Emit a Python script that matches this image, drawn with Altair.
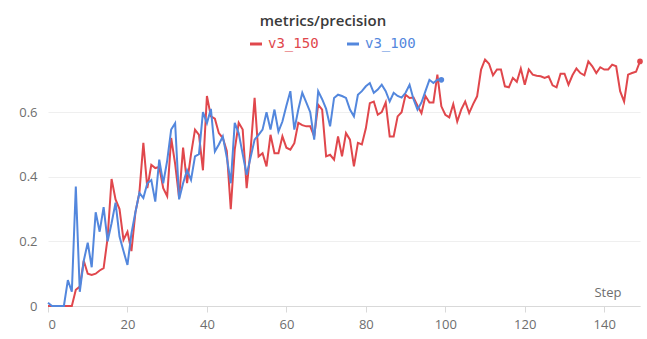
import altair as alt
import pandas as pd

# Precision per training step for two runs
red_name = "v3_150"
blue_name = "v3_100"

v3_150 = [
    0, 0, 0, 0, 0, 0, 0, 0.05, 0.06, 0.14,
    0.10, 0.096, 0.10, 0.11, 0.117, 0.21, 0.393, 0.33, 0.30, 0.205,
    0.23, 0.17, 0.29, 0.35, 0.505, 0.365, 0.437, 0.427, 0.43, 0.365,
    0.34, 0.52, 0.44, 0.334, 0.49, 0.38, 0.47, 0.546, 0.53, 0.42,
    0.65, 0.587, 0.58, 0.535, 0.52, 0.48, 0.30, 0.484, 0.567, 0.546,
    0.365, 0.484, 0.644, 0.463, 0.473, 0.432, 0.53, 0.473, 0.473, 0.525,
    0.49, 0.484, 0.504, 0.567, 0.56, 0.556, 0.556, 0.525, 0.623, 0.608,
    0.463, 0.468, 0.453, 0.525, 0.463, 0.535, 0.515, 0.432, 0.505, 0.50,
    0.55, 0.628, 0.633, 0.592, 0.60, 0.63, 0.525, 0.525, 0.587, 0.60,
    0.654, 0.644, 0.645, 0.62, 0.597, 0.65, 0.63, 0.63, 0.716, 0.618,
    0.592, 0.584, 0.625, 0.571, 0.608, 0.633, 0.597, 0.625, 0.649, 0.732,
    0.763, 0.75, 0.714, 0.732, 0.732, 0.68, 0.677, 0.706, 0.694, 0.735,
    0.685, 0.732, 0.716, 0.713, 0.711, 0.706, 0.711, 0.683, 0.677, 0.719,
    0.719, 0.685, 0.714, 0.735, 0.721, 0.714, 0.757, 0.742, 0.721, 0.739,
    0.732, 0.732, 0.747, 0.742, 0.665, 0.633, 0.716, 0.721, 0.725, 0.757,
]

v3_100 = [
    0.01, 0, 0, 0, 0, 0.08, 0.044, 0.37, 0.044, 0.14,
    0.196, 0.12, 0.29, 0.23, 0.306, 0.20, 0.256, 0.32, 0.215, 0.17,
    0.127, 0.225, 0.29, 0.35, 0.334, 0.38, 0.39, 0.323, 0.453, 0.38,
    0.45, 0.546, 0.566, 0.33, 0.38, 0.42, 0.39, 0.463, 0.47, 0.60,
    0.566, 0.61, 0.478, 0.50, 0.525, 0.46, 0.38, 0.567, 0.535, 0.47,
    0.406, 0.46, 0.515, 0.53, 0.546, 0.60, 0.546, 0.608, 0.54, 0.571,
    0.62, 0.665, 0.546, 0.608, 0.66, 0.63, 0.60, 0.515, 0.665, 0.64,
    0.61, 0.556, 0.644, 0.654, 0.65, 0.644, 0.608, 0.587, 0.654, 0.665,
    0.68, 0.69, 0.66, 0.67, 0.685, 0.665, 0.633, 0.66, 0.65, 0.645,
    0.66, 0.685, 0.64, 0.608, 0.63, 0.665, 0.70, 0.69, 0.70, 0.70,
]

x_ticks = [0, 20, 40, 60, 80, 100, 120, 140]
y_ticks = [0, 0.2, 0.4, 0.6]

red = "#e0474c"
blue = "#5387dd"
font = "Open Sans"
mono = "DejaVu Sans Mono"

rows = [{"Step": i, "value": v, "run": red_name} for i, v in enumerate(v3_150)]
rows += [{"Step": i, "value": v, "run": blue_name} for i, v in enumerate(v3_100)]
df = pd.DataFrame(rows)
last = df.groupby("run", as_index=False).last()

color_scale = alt.Scale(domain=[red_name, blue_name], range=[red, blue])

x_enc = alt.X(
    "Step:Q",
    scale=alt.Scale(domain=[0, 149], nice=False),
    axis=alt.Axis(
        values=x_ticks,
        grid=False,
        domainColor="#d9d9d9",
        tickColor="#d9d9d9",
        tickSize=6,
        labelPadding=6,
        labelFontSize=13,
        labelColor="#6e6e6e",
        labelFont=font,
        title="Step",
        titleX=573,
        titleY=-7,
        titleAlign="right",
        titleBaseline="bottom",
        titleFontWeight="normal",
        titleFontSize=13,
        titleColor="#6e6e6e",
        titleFont=font,
    ),
)

y_enc = alt.Y(
    "value:Q",
    scale=alt.Scale(domain=[0, 0.78], nice=False),
    axis=alt.Axis(
        values=y_ticks,
        format=".1~f",
        grid=True,
        gridColor="#efefef",
        domain=False,
        ticks=False,
        labelPadding=11,
        labelFontSize=13,
        labelColor="#6e6e6e",
        labelFont=font,
        title=None,
    ),
)

lines = alt.Chart(df).mark_line(strokeWidth=2).encode(
    x=x_enc,
    y=y_enc,
    color=alt.Color("run:N", scale=color_scale, sort=[red_name, blue_name], legend=None),
    order="Step:Q",
)
dots = alt.Chart(last).mark_circle(size=32, opacity=1).encode(
    x="Step:Q",
    y="value:Q",
    color=alt.Color("run:N", scale=color_scale, legend=None),
)


# Legend: a short coloured stroke followed by the run name in the same colour
def legend_entry(name, col, x0):
    base = alt.Chart(pd.DataFrame({"run": [name]}))
    swatch = base.mark_rule(strokeWidth=3).encode(
        x=alt.value(x0), x2=alt.value(x0 + 12), y=alt.value(-10), color=alt.value(col)
    )
    label = base.mark_text(
        align="left", baseline="middle", font=mono, fontSize=14
    ).encode(
        x=alt.value(x0 + 18), y=alt.value(-10), text="run:N", color=alt.value(col)
    )
    return swatch + label


legend = legend_entry(red_name, red, 202) + legend_entry(blue_name, blue, 299)

chart = (
    alt.layer(lines, dots, legend)
    .properties(
        width=592,
        height=252,
        padding={"left": 48, "top": 54, "right": 7, "bottom": 33},
        autosize=alt.AutoSizeParams(type="none"),
        title=alt.TitleParams(
            text="metrics/precision",
            anchor="middle",
            dx=-21,
            offset=8,
            fontSize=15,
            fontWeight=600,
            color="#3a3a3a",
            font=font,
        ),
    )
    .configure_view(stroke=None)
)

chart.save("out.html", embed_options={"renderer": "svg", "actions": False})
